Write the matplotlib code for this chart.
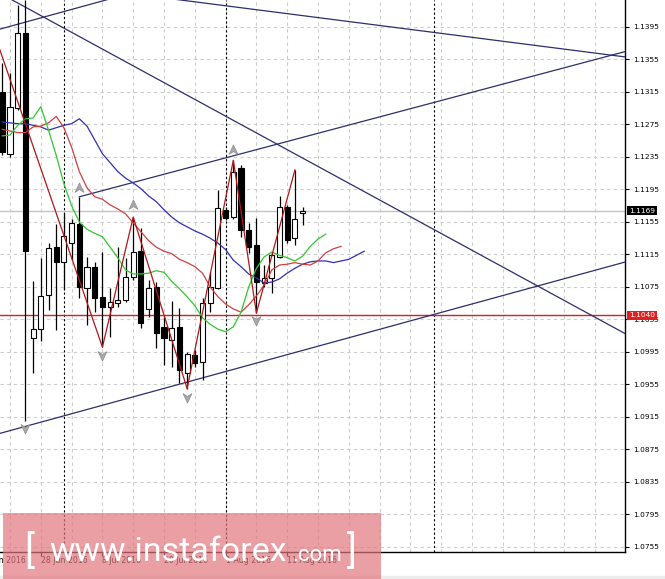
import matplotlib
matplotlib.use("Agg")
import matplotlib.pyplot as plt
import matplotlib.transforms as mtransforms
from matplotlib.patches import Rectangle
from matplotlib.lines import Line2D
from matplotlib.path import Path

# EURUSD daily, 21 Jun 2016 .. 15 Aug 2016, bar index 0 = 22 Jun
bar_idx = list(range(-1, 39))
opens = [1.1315, 1.1239, 1.1295, 1.1388, 1.1012, 1.1023, 1.1065, 1.1124, 1.1106, 1.1129,
         1.1153, 1.1074, 1.1100, 1.1063, 1.1050, 1.1055, 1.1059, 1.1087, 1.1119, 1.1048,
         1.1075, 1.1026, 1.1010, 1.1026, 1.0969, 1.0991, 1.0983, 1.1055, 1.1074, 1.1170,
         1.1161, 1.1222, 1.1145, 1.1127, 1.1080, 1.1086, 1.1112, 1.1173, 1.1135, 1.1166]
highs = [1.1351, 1.1338, 1.1422, 1.1428, 1.1082, 1.1111, 1.1129, 1.1153, 1.1166, 1.1159,
         1.1186, 1.1112, 1.1106, 1.1118, 1.1074, 1.1124, 1.1111, 1.1161, 1.1148, 1.1084,
         1.1081, 1.1038, 1.1058, 1.1049, 1.0995, 1.0997, 1.1062, 1.1094, 1.1194, 1.1173,
         1.1231, 1.1225, 1.1154, 1.1160, 1.1102, 1.1118, 1.1187, 1.1176, 1.1219, 1.1173]
lows = [1.1238, 1.1235, 1.1293, 1.0910, 1.0969, 1.1009, 1.1047, 1.1022, 1.1071, 1.1108,
        1.1062, 1.1028, 1.1044, 1.1001, 1.1013, 1.1050, 1.1057, 1.1084, 1.1025, 1.1038,
        1.1000, 1.0979, 1.0977, 1.0957, 1.0950, 1.0977, 1.0961, 1.1044, 1.1073, 1.1157,
        1.1159, 1.1137, 1.1117, 1.1043, 1.1075, 1.1068, 1.1111, 1.1129, 1.1127, 1.1151]
closes = [1.1241, 1.1297, 1.1388, 1.1119, 1.1023, 1.1064, 1.1123, 1.1106, 1.1138, 1.1154,
          1.1075, 1.1100, 1.1062, 1.1050, 1.1057, 1.1059, 1.1087, 1.1118, 1.1031, 1.1074,
          1.1018, 1.1012, 1.1025, 1.0973, 1.0993, 1.0981, 1.1055, 1.1075, 1.1172, 1.1160,
          1.1217, 1.1145, 1.1124, 1.1081, 1.1086, 1.1114, 1.1173, 1.1133, 1.1159, 1.1169]

# Alligator lines (they run a few bars past the last candle)
jaw_idx = list(range(-1, 47))
jaw = [1.1278, 1.1277, 1.1276, 1.1276, 1.1274, 1.1272, 1.1268, 1.1271, 1.1274, 1.1276,
       1.1282, 1.1273, 1.1256, 1.1239, 1.1228, 1.1217, 1.1209, 1.1203, 1.1196, 1.1187,
       1.1180, 1.1170, 1.1161, 1.1154, 1.1149, 1.1144, 1.1140, 1.1135, 1.1129, 1.1121,
       1.1108, 1.1100, 1.1091, 1.1086, 1.1080, 1.1081, 1.1085, 1.1092, 1.1098, 1.1103,
       1.1106, 1.1107, 1.1107, 1.1105, 1.1107, 1.1109, 1.1114, 1.1119]
teeth_idx = list(range(-1, 44))
teeth = [1.1269, 1.1267, 1.1265, 1.1265, 1.1272, 1.1273, 1.1277, 1.1285, 1.1271, 1.1247,
         1.1217, 1.1197, 1.1186, 1.1183, 1.1176, 1.1171, 1.1165, 1.1154, 1.1143, 1.1132,
         1.1124, 1.1119, 1.1116, 1.1109, 1.1105, 1.1100, 1.1092, 1.1075, 1.1063, 1.1054,
         1.1048, 1.1044, 1.1053, 1.1064, 1.1077, 1.1096, 1.1102, 1.1103, 1.1105, 1.1103,
         1.1102, 1.1107, 1.1117, 1.1122, 1.1125]
lips_idx = list(range(-1, 42))
lips = [1.1261, 1.1262, 1.1274, 1.1282, 1.1283, 1.1297, 1.1268, 1.1237, 1.1202, 1.1175,
        1.1155, 1.1146, 1.1141, 1.1137, 1.1124, 1.1111, 1.1096, 1.1091, 1.1091, 1.1092,
        1.1095, 1.1093, 1.1082, 1.1073, 1.1063, 1.1052, 1.1037, 1.1029, 1.1023, 1.1020,
        1.1026, 1.1044, 1.1075, 1.1098, 1.1112, 1.1118, 1.1114, 1.1111, 1.1107, 1.1113,
        1.1125, 1.1134, 1.1140]

# ZigZag swing points
zz_idx = [-3, 12, 16, 23, 29, 32, 37]
zz_price = [1.1413, 1.1001, 1.1161, 1.0950, 1.1231, 1.1043, 1.1219]

# fractals
fr_up_idx = [9, 16, 29]
fr_up_price = [1.1197, 1.1176, 1.1244]
fr_dn_idx = [2, 12, 23, 32]
fr_dn_price = [1.0901, 1.0991, 1.0940, 1.1034]

# trend lines: (bar0, price0, bar1, price1)
trend_lines = [
    (-2.6, 1.1389, 14.3, 1.1433),
    (-2.0, 1.1440, 80.0, 1.1017),
    (21.5, 1.1429, 80.0, 1.1358),
    (9.0, 1.1186, 80.0, 1.1365),
    (-2.0, 1.0893, 80.0, 1.1106),
]

bid_price = 1.1169
level_price = 1.1040

price_ticks = [1.0755 + 0.004 * k for k in range(17)]
date_idx = [-4, 4, 12, 20, 28, 36]
date_labels = ["16 Jun 2016", "28 Jun 2016", "8 Jul 2016", "20 Jul 2016", "1 Aug 2016", "11 Aug 2016"]
month_sep = [7, 28, 55]

fig = plt.figure(figsize=(6.65, 5.79), dpi=100)
ax = fig.add_axes([0, 27 / 579, 625 / 665, 552 / 579])
ax.set_xlim(-1.3, 79.87)
ax.set_ylim(1.07488, 1.14282)

# grid
for p in price_ticks:
    ax.axhline(p, color="#cccccc", lw=0.8, ls=(0, (3, 3)), zorder=0)
for g in range(0, 80, 4):
    ax.axvline(g, color="#cccccc", lw=0.8, ls=(0, (3, 3)), zorder=0)
for s in month_sep:
    ax.axvline(s, color="black", lw=0.8, ls=(0, (2, 2)), zorder=1)

ax.axhline(bid_price, color="#c4c4c4", lw=1.0, zorder=1)
ax.axhline(level_price, color="#d42020", lw=1.0, zorder=2)

for x0, p0, x1, p1 in trend_lines:
    ax.plot([x0, x1], [p0, p1], color="#2e2e6c", lw=0.9, zorder=3)

# candles
ax.vlines(bar_idx, lows, highs, color="black", lw=0.9, zorder=4)
bottoms = [min(o, c) for o, c in zip(opens, closes)]
heights = [max(abs(c - o), 0.00008) for o, c in zip(opens, closes)]
colors = ["white" if c >= o else "black" for o, c in zip(opens, closes)]
ax.bar(bar_idx, heights, bottom=bottoms, width=0.66, color=colors,
       edgecolor="black", lw=0.8, zorder=5)

# alligator + zigzag
ax.plot(jaw_idx, jaw, color="#3030b8", lw=0.9, zorder=6)
ax.plot(teeth_idx, teeth, color="#d04040", lw=0.9, zorder=6)
ax.plot(lips_idx, lips, color="#30c830", lw=0.9, zorder=6)
ax.plot(zz_idx, zz_price, color="#b01818", lw=0.9, zorder=7)

up_arrow = Path([(0, 1), (0.8, -0.7), (0, -0.2), (-0.8, -0.7), (0, 1)],
                [Path.MOVETO, Path.LINETO, Path.LINETO, Path.LINETO, Path.CLOSEPOLY])
dn_arrow = Path([(0, -1), (0.8, 0.7), (0, 0.2), (-0.8, 0.7), (0, -1)],
                [Path.MOVETO, Path.LINETO, Path.LINETO, Path.LINETO, Path.CLOSEPOLY])
ax.plot(fr_up_idx, fr_up_price, ls="none", marker=up_arrow, ms=8,
        color="#a8a8a8", mec="#8c8c8c", mew=0.5, zorder=7)
ax.plot(fr_dn_idx, fr_dn_price, ls="none", marker=dn_arrow, ms=8,
        color="#a8a8a8", mec="#8c8c8c", mew=0.5, zorder=7)

# axes look
for side in ["top", "left"]:
    ax.spines[side].set_visible(False)
for side in ["right", "bottom"]:
    ax.spines[side].set_color("black")
    ax.spines[side].set_linewidth(1.0)
ax.set_facecolor("white")

ax.yaxis.tick_right()
ax.set_yticks(price_ticks)
ax.set_yticklabels([f"{p:.4f}" for p in price_ticks])
ax.tick_params(axis="y", direction="out", length=3, width=0.8, pad=3, labelsize=5.3)
ax.set_xticks([d for d in date_idx if d > -1.3])
ax.set_xticklabels([])
ax.tick_params(axis="x", direction="out", length=3, width=0.8)

xtr = mtransforms.blended_transform_factory(ax.transData, ax.transAxes)
for d, lab in zip(date_idx, date_labels):
    ax.text(d, -0.008, lab, transform=xtr, ha="left", va="top", fontsize=5.6,
            clip_on=False)

ytr = mtransforms.blended_transform_factory(ax.transAxes, ax.transData)
ax.text(1.0 + 4 / 625, bid_price, f"{bid_price:.4f}", transform=ytr, ha="left", va="center",
        color="white", fontsize=5.3, clip_on=False, zorder=10,
        bbox=dict(boxstyle="square,pad=0.22", fc="black", ec="none"))
ax.text(1.0 + 4 / 625, level_price, f"{level_price:.4f}", transform=ytr, ha="left", va="center",
        color="white", fontsize=5.3, clip_on=False, zorder=10,
        bbox=dict(boxstyle="square,pad=0.22", fc="#e02020", ec="none"))

# window bottom strip
fig.patches.append(Rectangle((0, 0), 1, 3 / 579, transform=fig.transFigure,
                             fc="#ececec", ec="none", zorder=2))
fig.add_artist(Line2D([0, 1], [3.5 / 579, 3.5 / 579], transform=fig.transFigure,
                      color="#a8a8a8", lw=0.8, zorder=2))

# watermark
fig.patches.append(Rectangle((3 / 665, 0), 378 / 665, 66 / 579, transform=fig.transFigure,
                             fc="#e0767d", alpha=0.7, ec="none", zorder=20))
wm_font = ["Roboto", "DejaVu Sans"]
fig.text(24 / 665, 16 / 579, "[", color="white", fontsize=27, family=wm_font,
         va="baseline", zorder=21)
fig.text(49 / 665, 18 / 579, "www.instaforex", color="white", fontsize=24.5, family=wm_font,
         va="baseline", zorder=21)
fig.text(292 / 665, 18 / 579, ".com", color="white", fontsize=16, family=wm_font,
         va="baseline", zorder=21)
fig.text(347 / 665, 16 / 579, "]", color="white", fontsize=27, family=wm_font,
         va="baseline", zorder=21)

fig.savefig("out.png", dpi=100, facecolor="white")
